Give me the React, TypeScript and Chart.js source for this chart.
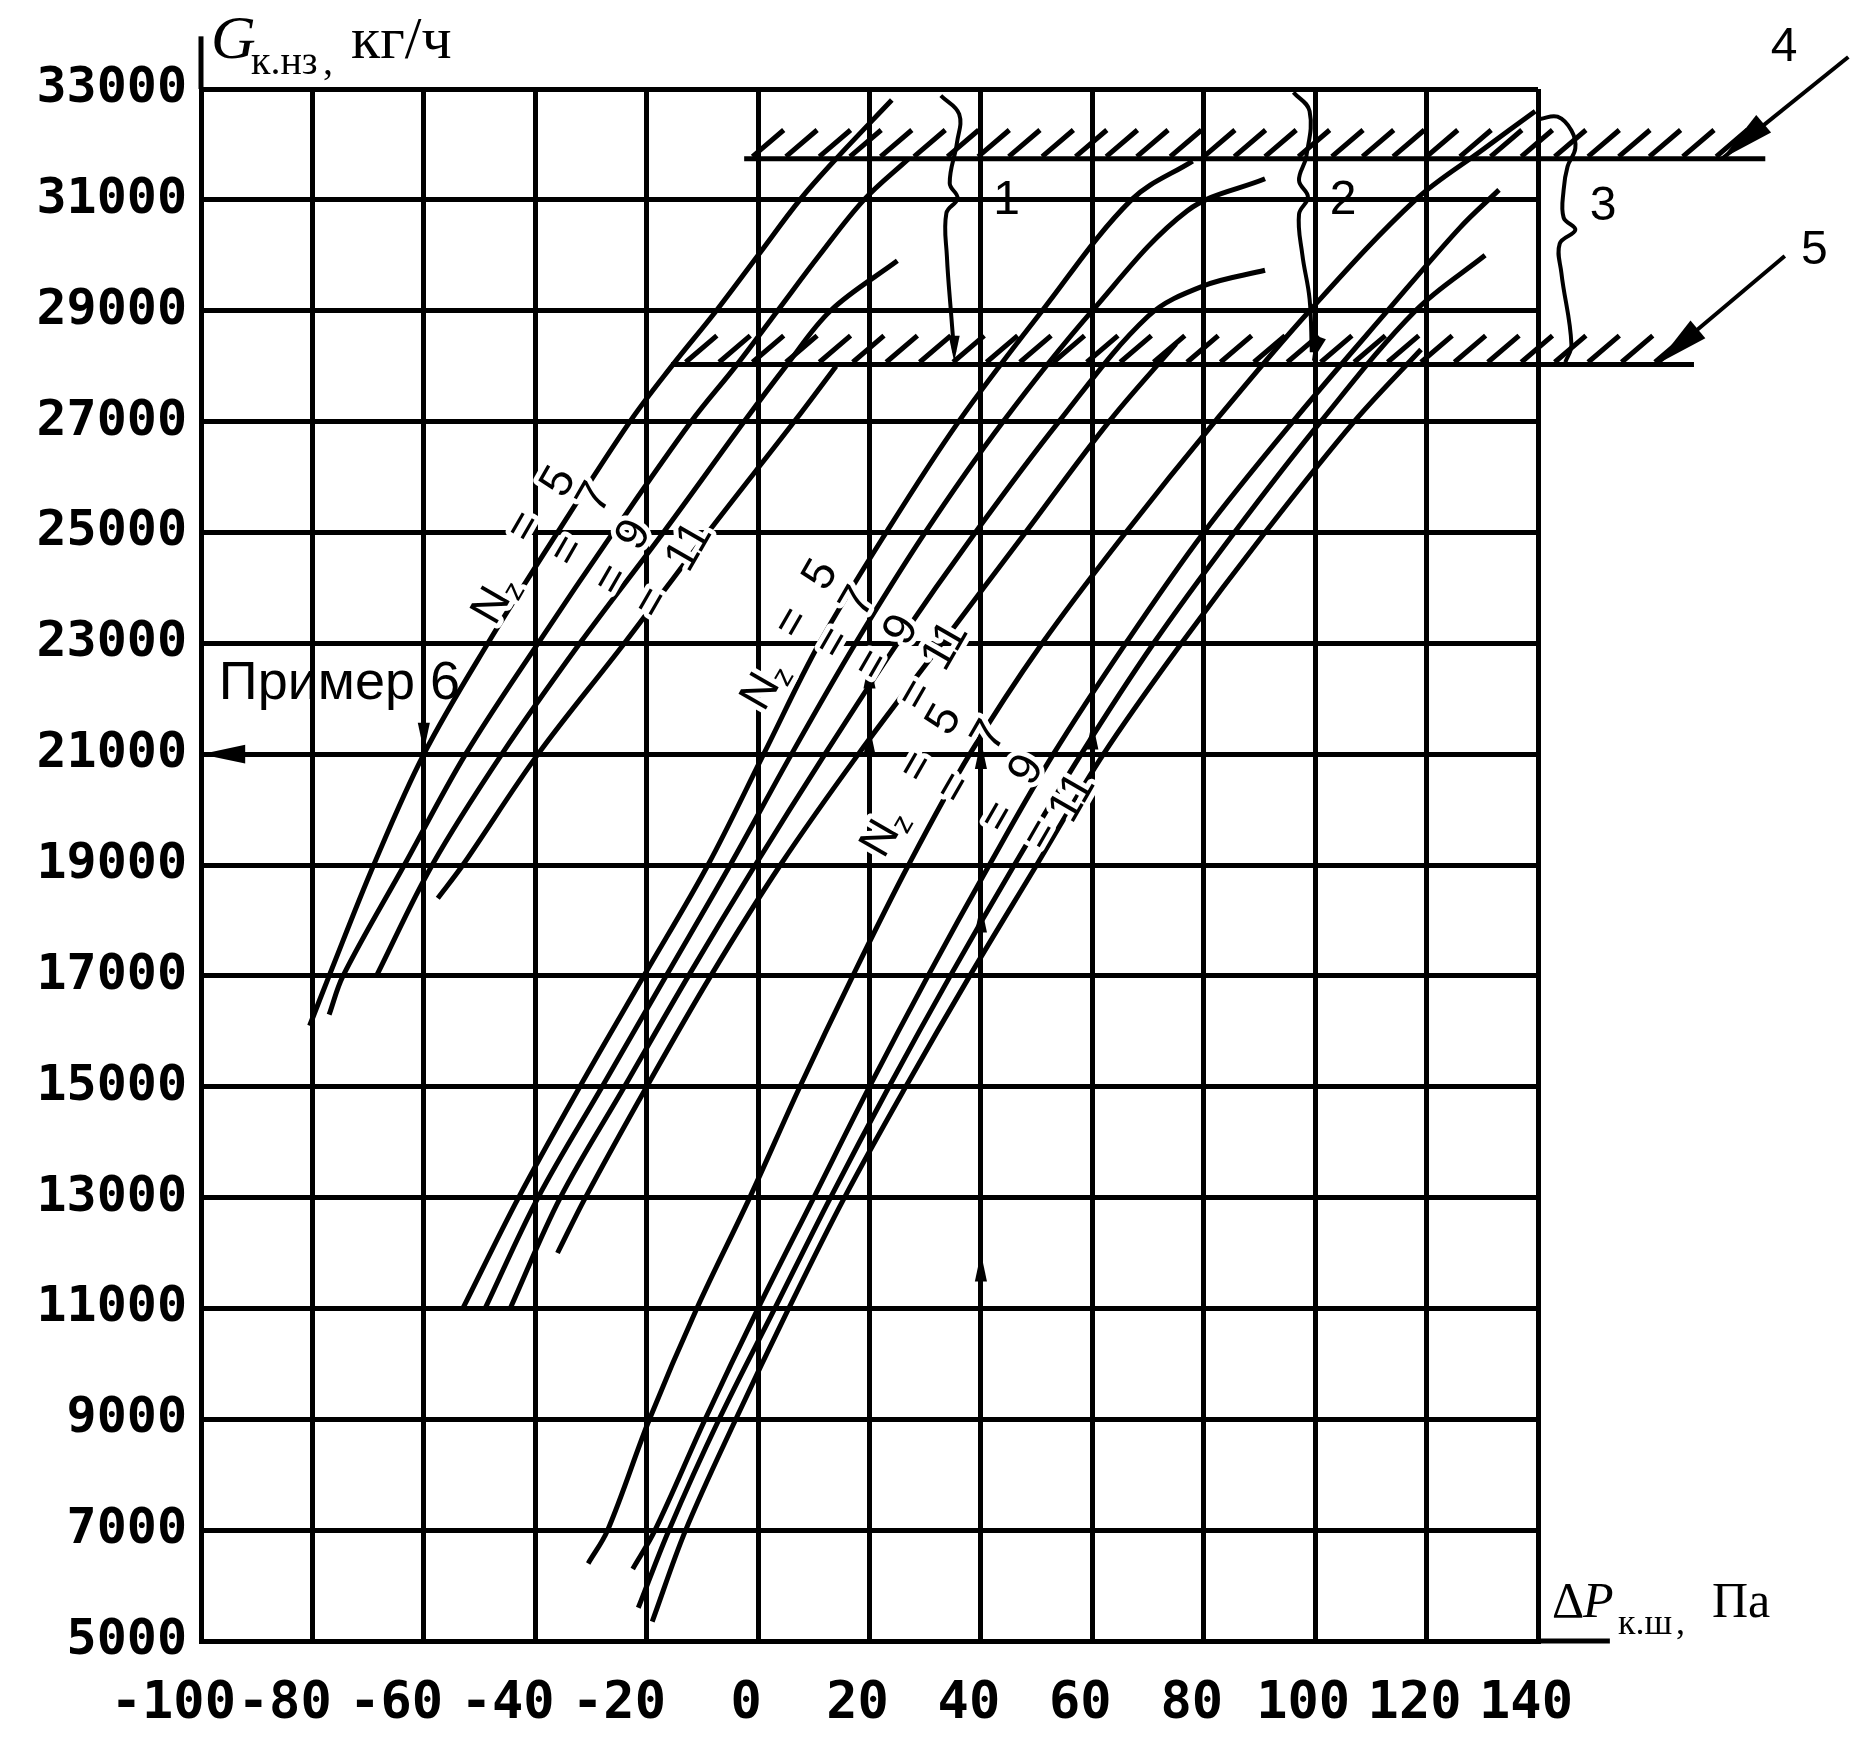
import React, { useEffect, useRef } from "react";
import { Chart, registerables } from "chart.js";

Chart.register(...registerables);

type Pt = [number, number];

// ---------- axes ----------
const xTickValues = [-100, -80, -60, -40, -20, 0, 20, 40, 60, 80, 100, 120, 140];
const xTickLabels = ["-100", "-80", "-60", "-40", "-20", "0", "20", "40", "60", "80", "100", "120", "140"];
const yTickValues = [5000, 7000, 9000, 11000, 13000, 15000, 17000, 19000, 21000, 23000, 25000, 27000, 29000, 31000, 33000];
const yTickLabels = ["5000", "7000", "9000", "11000", "13000", "15000", "17000", "19000", "21000", "23000", "25000", "27000", "29000", "31000", "33000"];

// ---------- family A (upper-left bundle), N_z = 5, 7, 9, 11 ----------
const famA_N5: Pt[] = [[-80.5, 16100], [-77, 17000], [-69, 19000], [-60, 21000], [-48.5, 23000], [-36, 25000], [-23, 27000], [-15.5, 28000], [-7.5, 29000], [0, 30000], [7.5, 31000], [14, 31740], [24, 32800]];
const famA_N7: Pt[] = [[-77, 16300], [-74.5, 17000], [-63.5, 19000], [-52.5, 21000], [-39.5, 23000], [-26, 25000], [-12, 27000], [-4, 28000], [3.5, 29000], [11, 30000], [19, 31000], [27, 31740]];
const famA_N9: Pt[] = [[-68.5, 17000], [-58.5, 19000], [-46, 21000], [-32, 23000], [-17, 25000], [-2.5, 27000], [5, 28000], [13, 29000], [25, 29900]];
const famA_N11: Pt[] = [[-57.5, 18400], [-53, 19000], [-39.5, 21000], [-24, 23000], [-9, 25000], [6.5, 27000], [14, 28000]];

// ---------- family B (middle bundle) ----------
const famB_N5: Pt[] = [[-53, 11000], [-43, 13000], [-32, 15000], [-20.5, 17000], [-9, 19000], [1, 21000], [11, 23000], [23, 25000], [36, 27000], [51, 29000], [67, 31000], [78, 31700]];
const famB_N7: Pt[] = [[-49, 11000], [-39.5, 13000], [-28, 15000], [-16.5, 17000], [-5, 19000], [6, 21000], [17.5, 23000], [30, 25000], [44, 27000], [60, 29000], [77, 30800], [91, 31380]];
const famB_N9: Pt[] = [[-44.5, 11000], [-35.5, 13000], [-24, 15000], [-12.5, 17000], [-0.5, 19000], [12, 21000], [25, 23000], [39, 25000], [54, 27000], [70, 28900], [80, 29450], [91, 29730]];
const famB_N11: Pt[] = [[-36, 12000], [-31, 13000], [-20, 15000], [-8.5, 17000], [4, 19000], [18, 21000], [33, 23000], [48, 25000], [63, 27000], [75, 28400]];

// ---------- family C (lower-right bundle) ----------
const famC_N5: Pt[] = [[-30.5, 6400], [-27, 7000], [-19.5, 9000], [-11, 11000], [-1.5, 13000], [7.5, 15000], [17, 17000], [27, 19000], [38, 21000], [51, 23000], [66, 25000], [82, 27000], [99, 29000], [118, 31000], [130, 31900], [139.5, 32600]];
const famC_N7: Pt[] = [[-22.5, 6300], [-18.5, 7000], [-9.5, 9000], [0, 11000], [10, 13000], [20, 15000], [30.5, 17000], [41.5, 19000], [53, 21000], [66, 23000], [80, 25000], [96, 27000], [113, 29000], [126, 30500], [133, 31180]];
const famC_N9: Pt[] = [[-21.5, 5600], [-16, 7000], [-7, 9000], [3, 11000], [13, 13000], [23.5, 15000], [34.5, 17000], [46, 19000], [58, 21000], [71, 23000], [85.5, 25000], [101, 27000], [118, 29000], [130.5, 30000]];
const famC_N11: Pt[] = [[-19, 5350], [-13, 7000], [-4, 9000], [5.5, 11000], [15.5, 13000], [26.5, 15000], [38, 17000], [50, 19000], [62, 21000], [76, 23000], [91, 25000], [107, 27000], [119, 28300]];

// ---------- hatched limit lines 4 and 5 ----------
const line4Level = 31740;
const line4Span: Pt = [-2.5, 180.8];
const line4Hatch = [-1, 5, 11, 16.5, 22, 28, 34, 39.5, 45, 51, 57, 62.5, 68, 74, 80, 85.5, 91, 97, 103, 108.5, 114, 120, 126, 131.5, 137, 143, 149, 154.5, 160, 166, 172];
const line5Level = 28030;
const line5Span: Pt = [-15.6, 168];
const line5Hatch = [-13, -7, -1, 5, 11, 17, 23, 29, 35, 41, 47, 53, 59, 65, 71, 77, 83, 89, 95, 101, 107, 113, 119, 125, 131, 137, 143, 149, 155, 161];

// ---------- braces 1, 2, 3 ----------
const brace1: Pt[] = [[32.8, 32880], [36.1, 32545], [35.7, 32030], [34.4, 31300], [35.8, 31030], [33.8, 30760], [33.9, 29970], [34.7, 28880], [35.2, 28250]];
const brace2: Pt[] = [[96.1, 32940], [99, 32600], [98.4, 31780], [97.1, 31350], [98.7, 31050], [97.1, 30740], [97.7, 30010], [99, 29210], [99.4, 28250]];
const brace3: Pt[] = [[140.4, 32460], [143.5, 32500], [146, 32250], [146.7, 31930], [145.3, 31600], [144.6, 31180], [144.6, 30680], [146.7, 30460], [143.9, 30210], [144.2, 29680], [146, 28390], [144.9, 28070]];

// ---------- pointers to lines 4 and 5 ----------
const pointer4: Pt[] = [[195.7, 33577], [173, 31740]];
const pointer5: Pt[] = [[184.3, 29987], [161.2, 28030]];

// ---------- axis extensions ----------
const axisExtX: Pt[] = [[140, 5000], [152.9, 5000]];
const axisExtY: Pt[] = [[-100, 33000], [-100, 33950]];

// ---------- arrow heads: [x, G, direction (deg, 0 = right, 90 = down), size] ----------
const arrowHeads: [number, number, number, number][] = [
  [173, 31740, 140, 2.1],
  [161.2, 28030, 140, 2.1],
  [40, 12000, -90, 1.1],
  [40, 18300, -90, 1.1],
  [40, 21250, -90, 1.1],
  [60, 21600, -90, 1.1],
  [20, 22700, -90, 1.1],
  [20, 21500, -90, 1.1],
  [-60, 21050, 90, 1.1],
  [-100, 21000, 180, 1.7],
  [35.2, 28080, 90, 1],
  [99.4, 28080, 110, 1],
];

// ---------- callout numbers ----------
const calloutText = ["1", "2", "3", "4", "5"];
const calloutPos: Pt[] = [[42.2, 30745], [102.6, 30745], [149.3, 30637], [181.8, 33505], [187.2, 29843]];

const exampleText = "Пример 6";
const examplePos: Pt = [-96.8, 21995];

// ---------- N_z labels (token, x, G) ----------
const nzTokens: [string, number, number][] = [
  ["Nz", -47.1, 23781], ["=", -41.9, 25098], ["5", -35.7, 25910], ["=", -34.1, 24665], ["7", -29.2, 25620],
  ["=", -26.2, 24142], ["9", -22.2, 24954], ["=", -18.9, 23727], ["11", -12.3, 24737],
  ["Nz", 1.2, 22230], ["=", 6.2, 23366], ["5", 11.3, 24232], ["=", 13.6, 23005], ["7", 18.0, 23745],
  ["=", 20.6, 22609], ["9", 25.8, 23240], ["=", 28.4, 22067], ["11", 33.7, 22951],
  ["Nz", 22.7, 19577], ["=", 28.6, 20768], ["5", 33.5, 21616], ["=", 35.3, 20390], ["7", 41.6, 21328],
  ["=", 43.2, 19866], ["9", 48.3, 20714], ["=", 50.8, 19541], ["11", 56.5, 20209],
];

const yTitleMain = "G";
const yTitleSub = "к.нз";
const yTitleUnit = "кг/ч";
const yTitlePos: Pt = [-98.2, 33560];
const xTitleMain = "P";
const xTitleSub = "к.ш";
const xTitleUnit = "Па";
const xTitlePos: Pt = [142.5, 5434];

const toXY = (pts: Pt[]) => pts.map(([x, y]) => ({ x, y }));

function hatchData(starts: number[], level: number) {
  const out: { x: number; y: number }[] = [];
  for (const s of starts) {
    out.push({ x: s, y: level + 40 }, { x: s + 5.6, y: level + 520 }, { x: NaN, y: NaN });
  }
  return out;
}

const annotationPlugin = {
  id: "nomogramAnnotations",
  afterDatasetsDraw(chart: any) {
    const ctx = chart.ctx as CanvasRenderingContext2D;
    const xs = chart.scales.x;
    const ys = chart.scales.y;
    const px = (v: number) => xs.getPixelForValue(v);
    const py = (v: number) => ys.getPixelForValue(v);
    ctx.save();
    ctx.fillStyle = "#000";
    ctx.strokeStyle = "#000";

    // arrow heads
    for (const [x, g, dir, size] of arrowHeads) {
      const tx = px(x);
      const ty = py(g);
      const a = (dir * Math.PI) / 180;
      const len = 26 * size;
      const w = 11 * size;
      const bx = tx - len * Math.cos(a);
      const by = ty - len * Math.sin(a);
      ctx.beginPath();
      ctx.moveTo(tx, ty);
      ctx.lineTo(bx - (w / 2) * Math.sin(a), by + (w / 2) * Math.cos(a));
      ctx.lineTo(bx + (w / 2) * Math.sin(a), by - (w / 2) * Math.cos(a));
      ctx.closePath();
      ctx.fill();
    }

    // N_z labels
    ctx.textAlign = "center";
    ctx.textBaseline = "middle";
    for (const [t, x, g] of nzTokens) {
      ctx.save();
      ctx.translate(px(x), py(g));
      ctx.rotate((-60 * Math.PI) / 180);
      ctx.lineJoin = "round";
      ctx.lineWidth = 10;
      ctx.strokeStyle = "#fff";
      if (t === "Nz") {
        ctx.font = '46px "Liberation Sans"';
        ctx.strokeText("N", -7, 0);
        ctx.fillText("N", -7, 0);
        ctx.font = '30px "Liberation Sans"';
        ctx.strokeText("z", 17, 12);
        ctx.fillText("z", 17, 12);
      } else {
        ctx.font = '46px "Liberation Sans"';
        ctx.strokeText(t, 0, 0);
        ctx.fillText(t, 0, 0);
      }
      ctx.restore();
    }

    // callouts 1..5
    ctx.textAlign = "left";
    ctx.textBaseline = "alphabetic";
    ctx.font = '48px "Liberation Sans"';
    calloutText.forEach((t, i) => {
      ctx.fillText(t, px(calloutPos[i][0]), py(calloutPos[i][1]));
    });

    // example label
    ctx.font = '54px "Liberation Sans"';
    ctx.fillText(exampleText, px(examplePos[0]), py(examplePos[1]));

    // y title
    const yx = px(yTitlePos[0]);
    const yy = py(yTitlePos[1]);
    ctx.font = 'italic 62px "Liberation Serif"';
    ctx.fillText(yTitleMain, yx, yy);
    ctx.font = '40px "Liberation Serif"';
    ctx.fillText(yTitleSub, yx + 40, yy + 16);
    ctx.fillText(",", yx + 112, yy + 16);
    ctx.font = '60px "Liberation Serif"';
    ctx.fillText(yTitleUnit, yx + 140, yy);

    // x title
    const xx = px(xTitlePos[0]);
    const xy = py(xTitlePos[1]);
    ctx.font = '50px "Liberation Serif"';
    ctx.fillText("Δ", xx, xy);
    ctx.font = 'italic 50px "Liberation Serif"';
    ctx.fillText(xTitleMain, xx + 31, xy);
    ctx.font = '36px "Liberation Serif"';
    ctx.fillText(xTitleSub, xx + 66, xy + 17);
    ctx.fillText(",", xx + 124, xy + 17);
    ctx.font = '50px "Liberation Serif"';
    ctx.fillText(xTitleUnit, xx + 160, xy);

    ctx.restore();
  },
};

export default function App() {
  const canvasRef = useRef<HTMLCanvasElement | null>(null);

  useEffect(() => {
    const canvas = canvasRef.current;
    if (!canvas) return;
    const curveStyle = { borderColor: "#000", borderWidth: 5, pointRadius: 0, showLine: true, fill: false, clip: false as any, tension: 0.35 };
    const straight = { borderColor: "#000", borderWidth: 5, pointRadius: 0, showLine: true, fill: false, clip: false as any, tension: 0 };
    const curves = [famA_N5, famA_N7, famA_N9, famA_N11, famB_N5, famB_N7, famB_N9, famB_N11, famC_N5, famC_N7, famC_N9, famC_N11];

    const datasets: any[] = [
      ...curves.map((c) => ({ ...curveStyle, data: toXY(c) })),
      { ...straight, data: toXY([[line4Span[0], line4Level], [line4Span[1], line4Level]]) },
      { ...straight, data: toXY([[line5Span[0], line5Level], [line5Span[1], line5Level]]) },
      { ...straight, borderWidth: 5, data: hatchData(line4Hatch, line4Level), spanGaps: false },
      { ...straight, borderWidth: 5, data: hatchData(line5Hatch, line5Level), spanGaps: false },
      { ...curveStyle, borderWidth: 4, tension: 0.4, data: toXY(brace1) },
      { ...curveStyle, borderWidth: 4, tension: 0.4, data: toXY(brace2) },
      { ...curveStyle, borderWidth: 4, tension: 0.4, data: toXY(brace3) },
      { ...straight, borderWidth: 4, data: toXY(pointer4) },
      { ...straight, borderWidth: 4, data: toXY(pointer5) },
      { ...straight, data: toXY(axisExtX) },
      { ...straight, data: toXY(axisExtY) },
    ];

    const chart = new Chart(canvas, {
      type: "scatter",
      data: { datasets },
      options: {
        animation: false,
        responsive: false,
        devicePixelRatio: 1,
        events: [],
        layout: { padding: { top: 89, right: 329, bottom: 0, left: 0 } },
        plugins: { legend: { display: false }, tooltip: { enabled: false }, title: { display: false } },
        scales: {
          x: {
            type: "linear",
            min: -100,
            max: 140,
            afterBuildTicks: (s: any) => {
              s.ticks = xTickValues.map((v) => ({ value: v }));
            },
            afterFit: (s: any) => {
              s.height = 99;
            },
            ticks: {
              color: "#000",
              padding: 32,
              labelOffset: -12,
              maxRotation: 0,
              autoSkip: false,
              font: { family: '"DejaVu Sans Mono"', size: 52, weight: "bold" },
              callback: (_v: any, i: number) => {
                const l = xTickLabels[i];
                return l.startsWith("-") ? l + " " : l;
              },
            },
            grid: { color: "#000", lineWidth: 5, drawTicks: false },
            border: { display: true, color: "#000", width: 5 },
          },
          y: {
            type: "linear",
            min: 5000,
            max: 33000,
            afterBuildTicks: (s: any) => {
              s.ticks = yTickValues.map((v) => ({ value: v }));
            },
            afterFit: (s: any) => {
              s.width = 201;
            },
            ticks: {
              color: "#000",
              padding: 14,
              autoSkip: false,
              font: { family: '"DejaVu Sans Mono"', size: 50, weight: "bold" },
              callback: (_v: any, i: number) => yTickLabels[i],
            },
            grid: { color: "#000", lineWidth: 5, drawTicks: false },
            border: { display: true, color: "#000", width: 5 },
          },
        },
      },
      plugins: [annotationPlugin],
    });
    return () => chart.destroy();
  }, []);

  return (
    <div style={{ position: "absolute", left: 0, top: 0, width: 1867, height: 1740, background: "#fff" }}>
      <canvas ref={canvasRef} width={1867} height={1740} style={{ width: 1867, height: 1740, display: "block" }} />
    </div>
  );
}
